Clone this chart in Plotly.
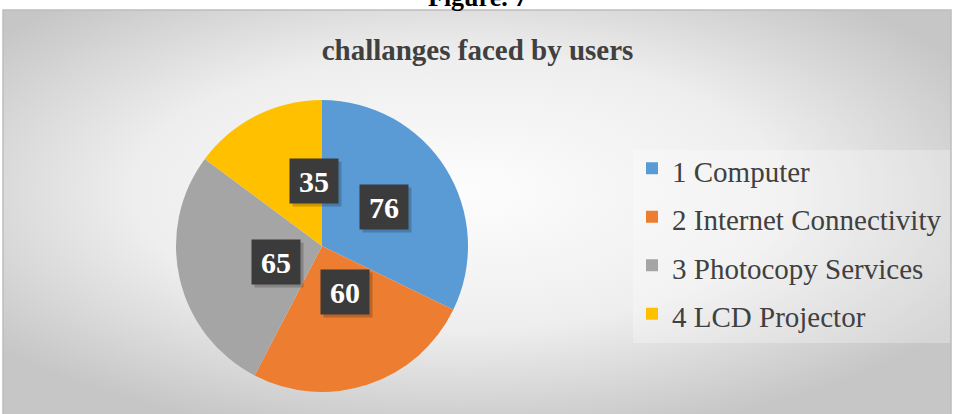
import math
import base64
import plotly.graph_objects as go

# ---- data ----
categories = ["1 Computer", "2 Internet Connectivity", "3 Photocopy Services", "4 LCD Projector"]
values = [76, 60, 65, 35]
colors = ["#5B9BD5", "#ED7D31", "#A5A5A5", "#FFC000"]
title_text = "challanges faced by users"
figure_caption = "Figure. 7"

# ---- geometry (pixels) ----
W, H = 955, 414
CX, CY, R = 322, 246, 146          # pie centre / radius
LABEL_R = 0.5                       # label distance as fraction of radius
FRAME = dict(x0=3, x1=951, y0=10, y1=414)

def px_x(x):
    return x / W

def px_y(y):
    return 1 - y / H

# gradient background as an svg image
svg = f"""<svg xmlns='http://www.w3.org/2000/svg' width='948' height='405' viewBox='0 0 948 405' preserveAspectRatio='none'>
<defs><radialGradient id='g' cx='0.48' cy='0.45' r='0.62'>
<stop offset='0' stop-color='#fdfdfd'/><stop offset='0.55' stop-color='#eeeeee'/><stop offset='1' stop-color='#c6c6c6'/>
</radialGradient></defs><rect width='948' height='405' fill='url(#g)'/></svg>"""
svg_uri = "data:image/svg+xml;base64," + base64.b64encode(svg.encode()).decode()

fig = go.Figure()
fig.add_trace(go.Pie(
    labels=[f"<span style='font-size:29px'>{c}</span>" for c in categories],
    values=values,
    marker=dict(colors=colors, line=dict(width=0)),
    sort=False,
    direction="clockwise",
    rotation=0,
    textinfo="none",
    hoverinfo="label+value",
    domain=dict(x=[px_x(CX - R), px_x(CX + R)], y=[px_y(CY + R), px_y(CY - R)]),
    showlegend=True,
))

# data labels at slice mid-angles (computed from values)
total = sum(values)
annotations = []
start = 0.0
for v in values:
    span = v / total * 2 * math.pi
    mid = start + span / 2
    start += span
    lx = CX + LABEL_R * R * math.sin(mid)
    ly = CY - LABEL_R * R * math.cos(mid)
    # shadow
    annotations.append(dict(
        x=px_x(lx), y=px_y(ly), xref="paper", yref="paper", showarrow=False,
        text=" ", width=34, height=30, borderpad=7, bgcolor="rgba(0,0,0,0.2)",
        xshift=3, yshift=-3, font=dict(size=30),
    ))
    annotations.append(dict(
        x=px_x(lx), y=px_y(ly), xref="paper", yref="paper", showarrow=False,
        text=f"<b>{v}</b>", width=34, height=30, borderpad=7, bgcolor="#3b3b3b",
        font=dict(family="Liberation Serif", size=30, color="white"),
    ))

annotations.append(dict(
    x=0.5, y=px_y(14), xref="paper", yref="paper", showarrow=False,
    xanchor="center", yanchor="bottom",
    text=f"<b>{figure_caption}</b>",
    font=dict(family="Liberation Serif", size=26, color="black"),
))

fig.update_layout(
    width=W, height=H,
    margin=dict(l=0, r=0, t=0, b=0),
    paper_bgcolor="white",
    plot_bgcolor="white",
    title=dict(
        text=f"<b>{title_text}</b>", x=0.5, xanchor="center",
        y=px_y(50), yanchor="middle", yref="container",
        font=dict(family="Liberation Serif", size=29, color="#404040"),
    ),
    legend=dict(
        x=px_x(632), xanchor="left", y=px_y(139), yanchor="top",
        bgcolor="rgba(0,0,0,0)",
        font=dict(family="Liberation Serif", size=35, color="#404040"),
    ),
    images=[dict(
        source=svg_uri, xref="paper", yref="paper",
        x=px_x(FRAME["x0"]), y=px_y(FRAME["y0"]),
        sizex=(FRAME["x1"] - FRAME["x0"]) / W, sizey=(FRAME["y1"] - FRAME["y0"]) / H,
        xanchor="left", yanchor="top", sizing="stretch", layer="below",
    )],
    shapes=[
        dict(type="rect", xref="paper", yref="paper",
             x0=px_x(633), x1=px_x(952), y0=px_y(343), y1=px_y(150),
             fillcolor="rgba(255,255,255,0.28)", line=dict(width=0), layer="below"),
        dict(type="rect", xref="paper", yref="paper",
             x0=px_x(FRAME["x0"]), x1=px_x(FRAME["x1"]),
             y0=px_y(FRAME["y1"]) - 0.01, y1=px_y(FRAME["y0"]),
             fillcolor="rgba(0,0,0,0)", line=dict(color="#bdbdbd", width=1.5)),
    ],
    annotations=annotations,
)

fig.write_html("out.html")
